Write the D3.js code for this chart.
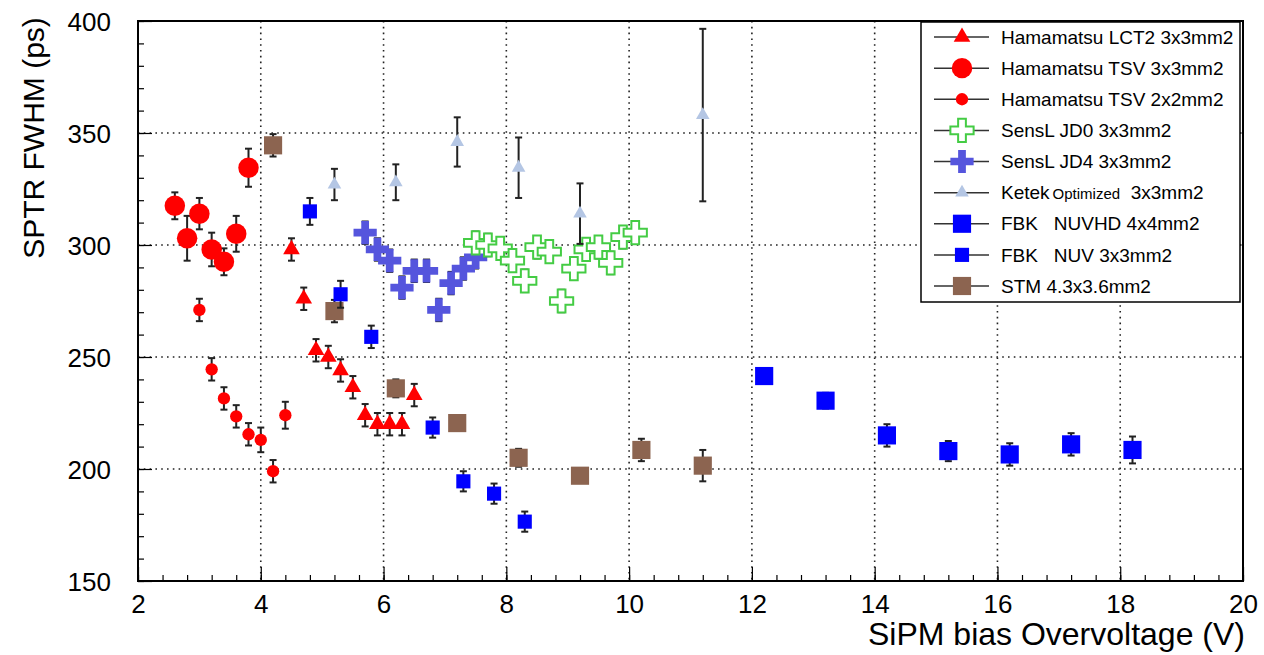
<!DOCTYPE html>
<html>
<head>
<meta charset="utf-8">
<script src="https://cdn.jsdelivr.net/npm/d3@7"></script>
<style>
body { margin: 0; background: #fff; }
svg { font-family: "Liberation Sans", Arial, sans-serif; }
</style>
</head>
<body>
<div id="chart"></div>
<script>
// values
var lct2X = [4.5, 4.7, 4.9, 5.1, 5.3, 5.5, 5.7, 5.9, 6.1, 6.3, 6.5];
var lct2Y = [298, 276, 253, 250, 244, 236.5, 224, 220, 220, 220, 233];
var lct2E = [5, 5, 5, 5, 5, 5, 5, 5, 5, 5, 5];

var tsv3X = [2.6, 2.8, 3.0, 3.2, 3.4, 3.6, 3.8];
var tsv3Y = [317.5, 303, 314, 298, 292.5, 305, 334.5];
var tsv3E = [6, 10, 7, 7.5, 6, 8, 8.5];

var tsv2X = [3.0, 3.2, 3.4, 3.6, 3.8, 4.0, 4.2, 4.4];
var tsv2Y = [271, 244.5, 231.5, 223.5, 215.5, 213, 199, 224];
var tsv2E = [5, 5, 5, 5, 5, 5.5, 5, 6];

var jd0X = [7.5, 7.7, 7.9, 8.1, 8.3, 8.5, 8.7, 8.9, 9.1, 9.3, 9.5, 9.7, 9.9, 10.1];
var jd0Y = [301, 300, 298.5, 293, 284, 299, 297, 275, 289.5, 298, 299, 292, 303.5, 305.5];
var jd0E = [5, 5, 5, 5, 5, 5, 5, 5, 5, 5, 5, 5, 5, 5];

var jd4X = [5.7, 5.9, 6.1, 6.3, 6.5, 6.7, 6.9, 7.1, 7.3, 7.5];
var jd4Y = [305.5, 298, 293, 281, 288.5, 288.5, 271, 283, 289.5, 294.5];
var jd4E = [5, 5, 5, 5, 5, 5, 5, 5, 5, 5];

var ketekX = [5.2, 6.2, 7.2, 8.2, 9.2, 11.2];
var ketekY = [327, 328, 346, 334.5, 314, 358];
var ketekE = [7, 8, 11, 13.5, 13.5, 38.5];

var nuvhdX = [12.2, 13.2, 14.2, 15.2, 16.2, 17.2, 18.2];
var nuvhdY = [241.5, 230.5, 215, 208, 206.5, 211, 208.5];
var nuvhdE = [3.5, 3.5, 5, 4.5, 5, 5, 6];

var nuvX = [4.8, 5.3, 5.8, 6.8, 7.3, 7.8, 8.3];
var nuvY = [315, 278, 259, 218.5, 194.5, 189, 176.5];
var nuvE = [6, 6, 5, 4.5, 4.5, 4.5, 4.5];

var stmX = [4.2, 5.2, 6.2, 7.2, 8.2, 9.2, 10.2, 11.2];
var stmY = [344.5, 270.5, 236, 220.5, 205, 197, 208.5, 201.5];
var stmE = [5, 5, 4, 3, 4, 3, 5, 7];

var xTicks = [2, 4, 6, 8, 10, 12, 14, 16, 18, 20];
var yTicks = [150, 200, 250, 300, 350, 400];

var width = 1264, height = 655;
var margin = { left: 138, top: 21, right: 21, bottom: 74 };
var W = width - margin.left - margin.right;
var H = height - margin.top - margin.bottom;

var x = d3.scaleLinear().domain([2, 20]).range([0, W]);
var y = d3.scaleLinear().domain([150, 400]).range([H, 0]);

var svg = d3.select("#chart").append("svg")
    .attr("width", width)
    .attr("height", height);

var g = svg.append("g")
    .attr("transform", "translate(" + margin.left + "," + margin.top + ")");

// dotted grid
g.selectAll(".gx").data(xTicks.slice(1, -1)).enter().append("line")
    .attr("x1", d => x(d)).attr("x2", d => x(d))
    .attr("y1", 0).attr("y2", H)
    .attr("stroke", "#222").attr("stroke-width", 1.6)
    .attr("stroke-dasharray", "1.6,4.2");
g.selectAll(".gy").data(yTicks.slice(1, -1)).enter().append("line")
    .attr("x1", 0).attr("x2", W)
    .attr("y1", d => y(d)).attr("y2", d => y(d))
    .attr("stroke", "#222").attr("stroke-width", 1.6)
    .attr("stroke-dasharray", "1.6,4.2");

// axes with inward ticks
var xAxis = g.append("g").attr("transform", "translate(0," + H + ")")
    .call(d3.axisBottom(x).tickValues(d3.range(2, 20.01, 0.4)).tickSize(-6).tickFormat(""));
var xAxisMaj = g.append("g").attr("transform", "translate(0," + H + ")")
    .call(d3.axisBottom(x).tickValues(xTicks).tickSize(-14).tickPadding(24).tickFormat(d3.format("d")));
var yAxis = g.append("g")
    .call(d3.axisLeft(y).tickValues(d3.range(150, 400.1, 10)).tickSize(-6).tickFormat(""));
var yAxisMaj = g.append("g")
    .call(d3.axisLeft(y).tickValues(yTicks).tickSize(-14).tickPadding(27).tickFormat(d3.format("d")));

[xAxis, xAxisMaj, yAxis, yAxisMaj].forEach(function (a) {
    a.select(".domain").remove();
    a.selectAll("line").attr("stroke", "#000").attr("stroke-width", 1.2);
    a.selectAll("text").attr("fill", "#000").attr("font-size", 26);
});
xAxisMaj.selectAll("text").attr("dy", "0.3em");
yAxisMaj.selectAll("text").attr("dy", "0.36em");

g.append("rect")
    .attr("width", W).attr("height", H)
    .attr("fill", "none").attr("stroke", "#000").attr("stroke-width", 2);

// axis titles
svg.append("text")
    .attr("x", margin.left + W + 2).attr("y", 645)
    .attr("text-anchor", "end").attr("font-size", 32)
    .text("SiPM bias Overvoltage (V)");
svg.append("text")
    .attr("transform", "translate(44,138) rotate(-90)")
    .attr("text-anchor", "middle").attr("font-size", 30)
    .text("SPTR FWHM (ps)");

function series(xs, ys, es) {
    return xs.map(function (d, i) { return { x: d, y: ys[i], e: es[i] }; });
}

function errBars(data) {
    var eb = g.append("g");
    data.forEach(function (d) {
        var y0 = y(d.y - d.e), y1 = y(d.y + d.e);
        eb.append("line").attr("x1", x(d.x)).attr("x2", x(d.x))
            .attr("y1", y0).attr("y2", y1).attr("stroke", "#222").attr("stroke-width", 2);
        [y0, y1].forEach(function (yy) {
            eb.append("line").attr("x1", x(d.x) - 3.5).attr("x2", x(d.x) + 3.5)
                .attr("y1", yy).attr("y2", yy).attr("stroke", "#222").attr("stroke-width", 2);
        });
    });
}

function drawSeries(data, mk) {
    errBars(data);
    g.append("g").selectAll("path").data(data).enter().append("path")
        .attr("transform", d => "translate(" + x(d.x) + "," + y(d.y) + ")")
        .attr("d", mk.path)
        .attr("fill", mk.fill)
        .attr("stroke", mk.stroke || "none")
        .attr("stroke-width", mk.sw || 0);
}

var markers = {
    lct2: { path: d3.symbol(d3.symbolTriangle, 120)(), fill: "#ff0000" },
    tsv3: { path: d3.symbol(d3.symbolCircle, 330)(), fill: "#ff0000" },
    tsv2: { path: d3.symbol(d3.symbolCircle, 120)(), fill: "#ff0000" },
    jd0: { path: d3.symbol(d3.symbolCross, 300)(), fill: "#fff", stroke: "#44cc44", sw: 2 },
    jd4: { path: d3.symbol(d3.symbolCross, 300)(), fill: "#5555dd" },
    ketek: { path: d3.symbol(d3.symbolTriangle, 80)(), fill: "#b4c6e4" },
    nuvhd: { path: d3.symbol(d3.symbolSquare, 330)(), fill: "#0000ff" },
    nuv: { path: d3.symbol(d3.symbolSquare, 200)(), fill: "#0000ff" },
    stm: { path: d3.symbol(d3.symbolSquare, 330)(), fill: "#8c6450" }
};

drawSeries(series(stmX, stmY, stmE), markers.stm);
drawSeries(series(nuvX, nuvY, nuvE), markers.nuv);
drawSeries(series(nuvhdX, nuvhdY, nuvhdE), markers.nuvhd);
drawSeries(series(tsv3X, tsv3Y, tsv3E), markers.tsv3);
drawSeries(series(tsv2X, tsv2Y, tsv2E), markers.tsv2);
drawSeries(series(lct2X, lct2Y, lct2E), markers.lct2);
drawSeries(series(jd4X, jd4Y, jd4E), markers.jd4);
drawSeries(series(jd0X, jd0Y, jd0E), markers.jd0);
drawSeries(series(ketekX, ketekY, ketekE), markers.ketek);

// legend
var legendNames = ["Hamamatsu LCT2 3x3mm2", "Hamamatsu TSV 3x3mm2", "Hamamatsu TSV 2x2mm2",
    "SensL JD0 3x3mm2", "SensL JD4 3x3mm2", "Ketek", "FBK   NUVHD 4x4mm2", "FBK   NUV 3x3mm2", "STM 4.3x3.6mm2"];
var legendKeys = ["lct2", "tsv3", "tsv2", "jd0", "jd4", "ketek", "nuvhd", "nuv", "stm"];

var lg = svg.append("g").attr("transform", "translate(921,22)");
lg.append("rect").attr("width", 319).attr("height", 280)
    .attr("fill", "#fff").attr("stroke", "#000").attr("stroke-width", 1.5);

var rowY = d3.scaleLinear().domain([0, 8]).range([15, 264]);
legendNames.forEach(function (name, i) {
    var row = lg.append("g").attr("transform", "translate(0," + rowY(i) + ")");
    row.append("line").attr("x1", 13).attr("x2", 68).attr("stroke", "#333").attr("stroke-width", 1.5);
    var mk = markers[legendKeys[i]];
    row.append("path").attr("transform", "translate(41,0)").attr("d", mk.path)
        .attr("fill", mk.fill).attr("stroke", mk.stroke || "none").attr("stroke-width", mk.sw || 0);
    var t = row.append("text").attr("x", 80).attr("y", 0).attr("dy", "0.35em")
        .attr("font-size", 19).style("white-space", "pre").text(name);
    if (legendKeys[i] === "ketek") {
        t.append("tspan").attr("font-size", 15).attr("dx", 3).text("Optimized");
        t.append("tspan").attr("font-size", 19).text("  3x3mm2");
    }
});
</script>
</body>
</html>
